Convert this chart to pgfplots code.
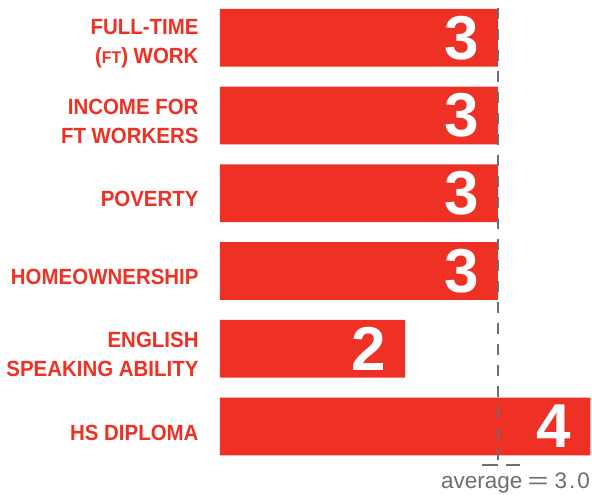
\documentclass[border=0pt]{standalone}
\usepackage{fontspec}
\setmainfont{Liberation Sans}
\newfontfamily\labelfont[FakeStretch=0.93]{Liberation Sans}
\usepackage{graphicx}
\usepackage{pgfplots}
\pgfplotsset{compat=1.18}
\definecolor{barred}{HTML}{EE3124}
\definecolor{avggray}{HTML}{6E6E6E}
\begin{document}
\begin{tikzpicture}
\path[use as bounding box] (0,0) rectangle (592pt,495pt);
\begin{axis}[
  at={(220pt,29.6pt)}, anchor=south west,
  scale only axis, width=370.5pt, height=466.5pt,
  xmin=0, xmax=4, ymin=-0.5, ymax=5.5,
  clip=false,
  xbar, bar width=57.7pt, bar shift=0pt,
  axis line style={draw=none},
  xtick=\empty,
  ytick={0,1,2,3,4,5},
  yticklabels={HS DIPLOMA, ENGLISH\\SPEAKING ABILITY, HOMEOWNERSHIP, POVERTY, INCOME FOR\\FT WORKERS, FULL-TIME\\({\fontsize{17}{29}\selectfont FT}) WORK},
  ytick style={draw=none},
  yticklabel style={align=right, inner sep=0pt, xshift=-17pt, yshift=-6pt, text=barred,
    font=\labelfont\bfseries\fontsize{22}{29}\selectfont},
  /pgf/number format/assume math mode=true,
  point meta=x,
  nodes near coords,
  every node near coord/.append style={anchor=east, xshift=-19pt, inner sep=0pt,
    text=white, font=\bfseries\fontsize{62}{62}\selectfont},
]
\addplot[fill=barred, draw=none] coordinates {(4,0) (2,1) (3,2) (3,3) (3,4) (3,5)};
\draw[avggray, line width=2pt, dash pattern=on 11pt off 10pt] (axis cs:3,5.383) -- (axis cs:3,-0.5);
\draw[avggray, line width=2pt] (axis cs:2.827,-0.5) -- (axis cs:3,-0.5);
\draw[avggray, line width=2pt] (axis cs:3.086,-0.5) -- (axis cs:3.238,-0.5);
\end{axis}
\node[anchor=base east, inner sep=0pt, text=avggray, font=\fontsize{22.5}{22.5}\selectfont] at (590pt,6pt) {average\hspace{5pt}\scalebox{1.6}[1]{=}\hspace{6pt}3\hspace{2pt}.\hspace{2pt}0};
\end{tikzpicture}
\end{document}
